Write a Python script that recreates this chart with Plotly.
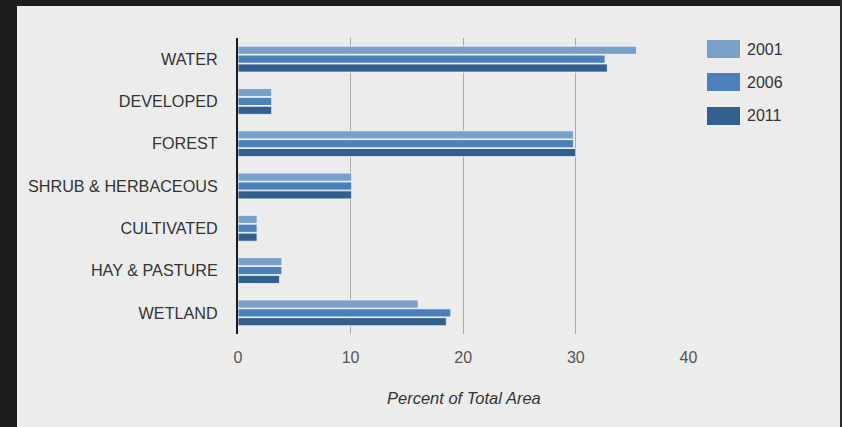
import plotly.graph_objects as go

categories = ["WATER", "DEVELOPED", "FOREST", "SHRUB & HERBACEOUS",
              "CULTIVATED", "HAY & PASTURE", "WETLAND"]
series_names = ["2001", "2006", "2011"]
values_2001 = [35.4, 3.0, 29.8, 10.1, 1.7, 3.9, 16.0]
values_2006 = [32.6, 3.0, 29.8, 10.1, 1.7, 3.9, 18.9]
values_2011 = [32.8, 3.0, 30.0, 10.1, 1.7, 3.7, 18.5]
series_values = [values_2001, values_2006, values_2011]
colors = ["#7ba0c8", "#4b80ba", "#335f8e"]
x_ticks = [0, 10, 20, 30, 40]

W, H = 842, 427
L, R, T, B = 238, 689, 38, 334

FONT = "Liberation Sans, Arial, sans-serif"

fig = go.Figure()
for name, vals, col in zip(series_names, series_values, colors):
    fig.add_trace(go.Bar(
        y=categories, x=vals, name=name, orientation="h",
        marker=dict(color=col, line=dict(color="rgba(235,245,255,0.9)", width=1)),
        showlegend=False,
    ))

def px_x(p):
    return (p - L) / (R - L)

def px_y(p):
    return 1 - (p - T) / (B - T)

shapes = [
    # dark frame bands
    dict(type="rect", xref="paper", yref="paper", x0=px_x(-5), x1=px_x(17),
         y0=px_y(H + 5), y1=px_y(-5), fillcolor="#1d1d1d", line_width=0, layer="above"),
    dict(type="rect", xref="paper", yref="paper", x0=px_x(-5), x1=px_x(W + 5),
         y0=px_y(6), y1=px_y(-5), fillcolor="#1d1d1d", line_width=0, layer="above"),
    dict(type="rect", xref="paper", yref="paper", x0=px_x(840), x1=px_x(W + 5),
         y0=px_y(H + 5), y1=px_y(-5), fillcolor="#2a2a2a", line_width=0, layer="above"),
]
annotations = [
    dict(text="<i>Percent of Total Area</i>", xref="paper", yref="paper",
         x=0.5, y=px_y(398), xanchor="center", yanchor="middle", showarrow=False,
         font=dict(family=FONT, size=16.5, color="#333333")),
]
# legend drawn manually
leg_y = [49, 82, 116]
for name, col, yc in zip(series_names, colors, leg_y):
    shapes.append(dict(type="rect", xref="paper", yref="paper",
                       x0=px_x(707), x1=px_x(740), y0=px_y(yc + 9), y1=px_y(yc - 9),
                       fillcolor=col, line_width=0, layer="above"))
    annotations.append(dict(text=name, xref="paper", yref="paper",
                            x=px_x(745), y=px_y(yc), xanchor="left", yanchor="middle",
                            showarrow=False, font=dict(family=FONT, size=16, color="#333333")))

fig.update_layout(
    width=W, height=H,
    margin=dict(l=L, r=W - R, t=T, b=H - B, pad=0),
    paper_bgcolor="#ececec", plot_bgcolor="#ececec",
    barmode="group", bargap=0.37, bargroupgap=0.08,
    showlegend=False,
    shapes=shapes, annotations=annotations,
    xaxis=dict(range=[0, 40.05], tickvals=x_ticks, showgrid=True, gridcolor="#aaaaaa",
               gridwidth=1, zeroline=False, showline=False,
               ticks="outside", ticklen=9, tickcolor="rgba(0,0,0,0)",
               tickfont=dict(family=FONT, size=16, color="#555555")),
    yaxis=dict(autorange="reversed", showgrid=False, zeroline=False,
               showline=True, linecolor="#1a1a1a", linewidth=2,
               ticks="outside", ticklen=15, tickcolor="rgba(0,0,0,0)",
               tickfont=dict(family=FONT, size=16.2, color="#333333")),
)

fig.write_html("out.html",
               config={"displayModeBar": False},
               post_script="document.body.style.margin='0px';document.body.style.overflow='hidden';")
